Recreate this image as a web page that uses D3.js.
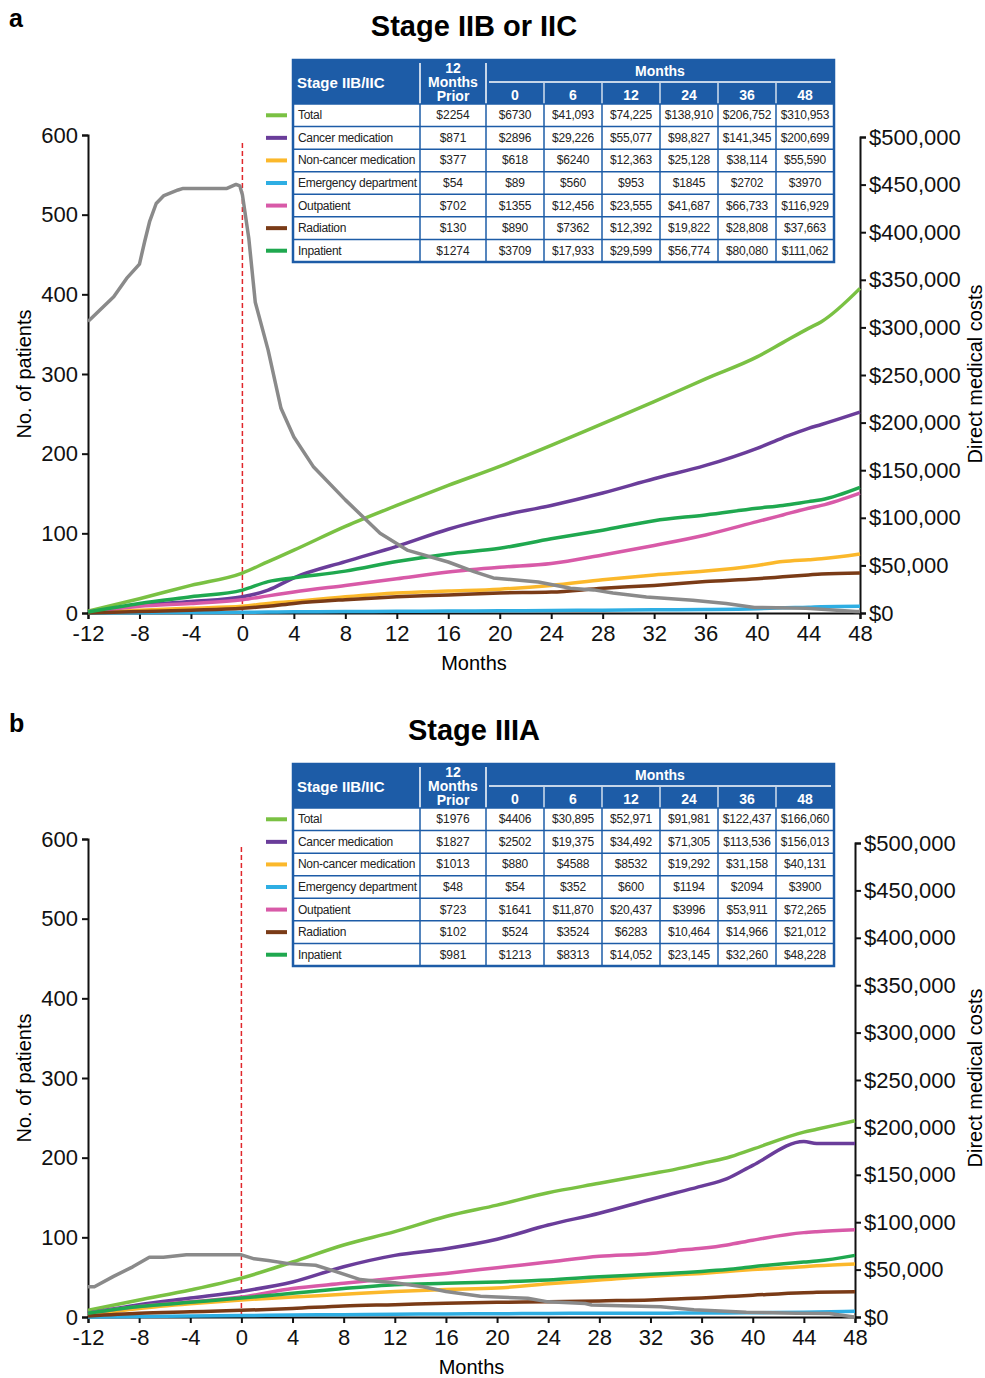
<!DOCTYPE html>
<html>
<head>
<meta charset="utf-8">
<script src="https://cdn.jsdelivr.net/npm/d3@7"></script>
<style>
  body { margin: 0; background: #fff; }
  svg { display: block; font-family: "Liberation Sans", Arial, sans-serif; }
</style>
</head>
<body>
<svg id="chart" width="985" height="1378"></svg>
<script>
// ---- data ----
var seriesNames = ["Total", "Cancer medication", "Non-cancer medication", "Emergency department", "Outpatient", "Radiation", "Inpatient"];
var seriesColors = ["#7ac143", "#6a3d9a", "#fbb82b", "#2eaee3", "#d85aa8", "#7a3b17", "#1fa84f"];
var tableMonths = ["0", "6", "12", "24", "36", "48"];

// cumulative direct medical costs, $ thousands
var monthsA = [-12, -8, -4, 0, 2, 4, 8, 12, 16, 20, 24, 28, 32, 36, 40, 42, 44, 45, 48];
var totalA      = [2, 15, 29, 42, 54, 66, 91, 113, 134, 154, 176, 199, 222, 246, 269, 284, 299, 306, 341];
var cancerA     = [1, 8, 12, 17, 24, 37, 54, 70, 88, 102, 113, 126, 141, 155, 173, 184, 194, 198, 211];
var nonCancerA  = [0.5, 3, 5, 7, 10, 12, 17, 21, 23, 25, 29, 35, 40, 44, 50, 54, 56, 57, 62];
var edA         = [0, 0.3, 0.5, 0.8, 1, 1.2, 1.5, 1.8, 2, 2.3, 2.6, 3, 3.3, 3.6, 4.5, 5.5, 6, 6.5, 7];
var outpatientA = [1, 7, 10, 14, 18, 22, 29, 36, 43, 48, 52, 61, 71, 82, 96, 103, 110, 113, 126];
var radiationA  = [0, 1.5, 3, 5, 7, 10, 14, 17, 19, 21, 22, 26, 29, 33, 36, 38, 40, 41, 42];
var inpatientA  = [1, 10, 17, 24, 33, 37, 44, 54, 62, 68, 78, 87, 97, 103, 110, 113, 117, 119, 132];

var patMonthsA = [-12, -10, -9, -8, -7.6, -7.2, -6.7, -6.1, -5, -4.6, -1.2, -0.5, -0.2, 0, 0.5, 1, 2, 3, 4, 5.5,
                  8, 10.7, 12.8, 16, 18, 19.5, 23, 25.5, 27.3, 28.8, 31.4, 35, 37.6, 39.8, 43.8, 47.7, 48];
var patientsA  = [366, 397, 420, 438, 466, 492, 514, 524, 531, 533, 533, 538, 536, 525, 470, 390, 330, 257, 221, 184,
                  142, 100, 79, 64, 52, 44, 39, 31, 29, 25, 20, 16, 12, 7, 6, 2, 2];

var monthsB = [-12, -8, -4, 0, 4, 8, 12, 16, 20, 24, 28, 32, 34, 36, 38, 40, 44, 45, 48];
var totalB      = [7, 18, 28.5, 41, 58, 76, 90, 106, 118, 131, 141, 151, 156, 162, 168, 177, 195, 198, 207];
var cancerB     = [4, 13, 20, 27, 37, 53, 65, 72, 82, 97, 109.5, 124, 131, 138, 146, 160, 185, 183, 183];
var nonCancerB  = [2, 9, 14, 18, 21, 24, 27, 29, 30.5, 35, 39, 43, 44.5, 46, 48, 50, 53, 54, 56];
var edB         = [0, 0.5, 1, 1.5, 2, 2.5, 3, 3.2, 3.5, 3.7, 4, 4, 4.1, 4.2, 4.3, 4.5, 5, 5.2, 6];
var outpatientB = [4, 11, 16, 21, 30, 35.5, 41, 46, 52, 58, 64, 67, 70, 72.5, 76, 81, 89, 90, 92];
var radiationB  = [1, 4, 5.5, 7, 9, 11.6, 13, 14.5, 15.5, 16, 17, 18, 19, 20, 21.5, 23, 25.7, 26, 26.7];
var inpatientB  = [4, 11, 15.5, 20, 25, 30, 34, 35.5, 37, 39, 42.5, 45, 46.5, 48, 50, 53, 58, 59, 65];

var patMonthsB = [-12, -11.5, -10, -8.5, -7.2, -6.1, -4.3, 0, 1, 2.1, 3.7, 5.8, 7.4, 9.3, 10.6, 12, 14.2, 16,
                  18.7, 20, 22.4, 24, 26.9, 27.4, 32.8, 35.4, 39.5, 43.4, 46, 47.8, 48];
var patientsB  = [38, 38, 51, 63, 75, 75, 78, 78, 73, 71, 67, 65, 57, 47, 45, 43, 38, 32,
                  26, 25, 23.5, 19, 17, 15, 13, 9, 6, 4.6, 4.5, 0.4, 0];

// table values
var priorA = ["$2254", "$871", "$377", "$54", "$702", "$130", "$1274"];
var tableA = [
  ["$6730", "$41,093", "$74,225", "$138,910", "$206,752", "$310,953"],
  ["$2896", "$29,226", "$55,077", "$98,827", "$141,345", "$200,699"],
  ["$618", "$6240", "$12,363", "$25,128", "$38,114", "$55,590"],
  ["$89", "$560", "$953", "$1845", "$2702", "$3970"],
  ["$1355", "$12,456", "$23,555", "$41,687", "$66,733", "$116,929"],
  ["$890", "$7362", "$12,392", "$19,822", "$28,808", "$37,663"],
  ["$3709", "$17,933", "$29,599", "$56,774", "$80,080", "$111,062"]
];
var priorB = ["$1976", "$1827", "$1013", "$48", "$723", "$102", "$981"];
var tableB = [
  ["$4406", "$30,895", "$52,971", "$91,981", "$122,437", "$166,060"],
  ["$2502", "$19,375", "$34,492", "$71,305", "$113,536", "$156,013"],
  ["$880", "$4588", "$8532", "$19,292", "$31,158", "$40,131"],
  ["$54", "$352", "$600", "$1194", "$2094", "$3900"],
  ["$1641", "$11,870", "$20,437", "$3996", "$53,911", "$72,265"],
  ["$524", "$3524", "$6283", "$10,464", "$14,966", "$21,012"],
  ["$1213", "$8313", "$14,052", "$23,145", "$32,260", "$48,228"]
];

var svg = d3.select("#chart");
var blue = "#1d5ca7";

function drawPanel(p) {
  var g = svg.append("g");
  var x = d3.scaleLinear().domain([-12, 48]).range([p.left, p.right]);
  var yL = d3.scaleLinear().domain([0, 600]).range([p.bottom, p.topL]);
  var yR = d3.scaleLinear().domain([0, 500]).range([p.bottom, p.topR]);

  // panel letter and title
  g.append("text").attr("x", 9).attr("y", p.letterY).attr("font-size", 25).attr("font-weight", "bold").text(p.letter);
  g.append("text").attr("x", 474).attr("y", p.titleY).attr("text-anchor", "middle")
    .attr("font-size", 29).attr("font-weight", "bold").text(p.title);

  // axes
  var axL = g.append("g").attr("transform", "translate(" + p.left + ",0)")
    .call(d3.axisLeft(yL).tickValues(d3.range(0, 601, 100)).tickSize(6).tickPadding(4));
  var axR = g.append("g").attr("transform", "translate(" + p.right + ",0)")
    .call(d3.axisRight(yR).tickValues(d3.range(0, 501, 50)).tickSize(6).tickPadding(3)
      .tickFormat(function(d) { return "$" + d3.format(",")(d * 1000); }));
  var axB = g.append("g").attr("transform", "translate(0," + p.bottom + ")")
    .call(d3.axisBottom(x).tickValues(d3.range(-12, 49, 4)).tickSize(6).tickPadding(6)
      .tickFormat(function(d) { return String(d); }));
  [axL, axR, axB].forEach(function(a) {
    a.selectAll("path, line").attr("stroke", "#111").attr("stroke-width", 2);
    a.selectAll("text").attr("font-size", 22).attr("fill", "#111").attr("font-family", "Liberation Sans, Arial, sans-serif");
  });

  var mid = (p.bottom + p.topL) / 2;
  g.append("text").attr("transform", "translate(31," + mid + ") rotate(-90)")
    .attr("text-anchor", "middle").attr("font-size", 20).text("No. of patients");
  g.append("text").attr("transform", "translate(982," + mid + ") rotate(-90)")
    .attr("text-anchor", "middle").attr("font-size", 20).text("Direct medical costs");
  g.append("text").attr("x", (p.left + p.right) / 2).attr("y", p.bottom + 57)
    .attr("text-anchor", "middle").attr("font-size", 20).text("Months");

  // month 0 marker
  g.append("line").attr("x1", x(0)).attr("x2", x(0)).attr("y1", yL(590)).attr("y2", p.bottom)
    .attr("stroke", "#e0262b").attr("stroke-width", 1.5).attr("stroke-dasharray", "5,3");

  // cost lines
  var costLine = d3.line().x(function(d) { return x(d[0]); }).y(function(d) { return yR(d[1]); })
    .curve(d3.curveMonotoneX);
  p.series.forEach(function(vals, i) {
    g.append("path").datum(d3.zip(p.months, vals)).attr("d", costLine)
      .attr("fill", "none").attr("stroke", seriesColors[i]).attr("stroke-width", 3.5)
      .attr("stroke-linejoin", "round");
  });

  // patients line
  var patLine = d3.line().x(function(d) { return x(d[0]); }).y(function(d) { return yL(d[1]); });
  g.append("path").datum(d3.zip(p.patMonths, p.patients)).attr("d", patLine)
    .attr("fill", "none").attr("stroke", "#8a8a8a").attr("stroke-width", 3.5)
    .attr("stroke-linejoin", "round");

  drawTable(g, p.tableTop, p.prior, p.table);
}

function drawTable(g, top, prior, table) {
  var L = 293, c1 = 420, c2 = 486, R = 834, headH = 44, bottom = top + 202;
  var col = d3.scaleBand().domain(tableMonths).range([c2, R]);
  var row = d3.scaleBand().domain(seriesNames).range([top + headH, bottom]);

  g.append("rect").attr("x", L).attr("y", top).attr("width", R - L).attr("height", headH).attr("fill", blue);
  g.append("rect").attr("x", L).attr("y", top + headH).attr("width", R - L).attr("height", bottom - top - headH).attr("fill", "#fff");

  // header separators
  var white = "#ffffff";
  g.append("line").attr("x1", c1).attr("x2", c1).attr("y1", top + 3).attr("y2", top + headH).attr("stroke", white).attr("stroke-width", 1.5);
  g.append("line").attr("x1", c2).attr("x2", c2).attr("y1", top + 3).attr("y2", top + headH).attr("stroke", white).attr("stroke-width", 1.5);
  g.append("line").attr("x1", c2 + 3).attr("x2", R - 3).attr("y1", top + 22).attr("y2", top + 22).attr("stroke", white).attr("stroke-width", 1.5);
  tableMonths.slice(1).forEach(function(m) {
    g.append("line").attr("x1", col(m)).attr("x2", col(m)).attr("y1", top + 23).attr("y2", top + headH)
      .attr("stroke", white).attr("stroke-width", 1.2);
  });

  var ht = g.append("g").attr("fill", white).attr("font-weight", "bold");
  ht.append("text").attr("x", L + 4).attr("y", top + 28).attr("font-size", 15).text("Stage IIB/IIC");
  ["12", "Months", "Prior"].forEach(function(t, i) {
    ht.append("text").attr("x", (c1 + c2) / 2).attr("y", top + 13 + i * 14).attr("text-anchor", "middle")
      .attr("font-size", 14).text(t);
  });
  ht.append("text").attr("x", (c2 + R) / 2).attr("y", top + 16).attr("text-anchor", "middle").attr("font-size", 14).text("Months");
  tableMonths.forEach(function(m) {
    ht.append("text").attr("x", col(m) + col.bandwidth() / 2).attr("y", top + 40).attr("text-anchor", "middle")
      .attr("font-size", 14).text(m);
  });

  // body grid
  seriesNames.forEach(function(s) {
    g.append("line").attr("x1", L).attr("x2", R).attr("y1", row(s)).attr("y2", row(s)).attr("stroke", blue).attr("stroke-width", 1.5);
  });
  [c1, c2].concat(tableMonths.slice(1).map(function(m) { return col(m); })).forEach(function(cx) {
    g.append("line").attr("x1", cx).attr("x2", cx).attr("y1", top + headH).attr("y2", bottom).attr("stroke", blue).attr("stroke-width", 1.5);
  });
  g.append("rect").attr("x", L).attr("y", top).attr("width", R - L).attr("height", bottom - top)
    .attr("fill", "none").attr("stroke", blue).attr("stroke-width", 2.5);

  // body text + legend swatches
  seriesNames.forEach(function(s, i) {
    var cy = row(s) + row.bandwidth() / 2 + 4;
    g.append("rect").attr("x", 266).attr("y", row(s) + row.bandwidth() / 2 - 2).attr("width", 21).attr("height", 4)
      .attr("fill", seriesColors[i]);
    g.append("text").attr("x", L + 5).attr("y", cy).attr("font-size", 12).attr("letter-spacing", -0.3)
      .attr("fill", "#222").text(s);
    g.append("text").attr("x", (c1 + c2) / 2).attr("y", cy).attr("text-anchor", "middle").attr("font-size", 12)
      .attr("fill", "#222").text(prior[i]);
    tableMonths.forEach(function(m, j) {
      g.append("text").attr("x", col(m) + col.bandwidth() / 2).attr("y", cy).attr("text-anchor", "middle")
        .attr("font-size", 12).attr("letter-spacing", -0.2).attr("fill", "#222").text(table[i][j]);
    });
  });
}

drawPanel({
  letter: "a", letterY: 27, title: "Stage IIB or IIC", titleY: 36,
  left: 88, right: 860, bottom: 613, topL: 135, topR: 137, tableTop: 60,
  months: monthsA, series: [totalA, cancerA, nonCancerA, edA, outpatientA, radiationA, inpatientA],
  patMonths: patMonthsA, patients: patientsA, prior: priorA, table: tableA
});

drawPanel({
  letter: "b", letterY: 732, title: "Stage IIIA", titleY: 740,
  left: 88, right: 855, bottom: 1317, topL: 839, topR: 843, tableTop: 764,
  months: monthsB, series: [totalB, cancerB, nonCancerB, edB, outpatientB, radiationB, inpatientB],
  patMonths: patMonthsB, patients: patientsB, prior: priorB, table: tableB
});
</script>
</body>
</html>
